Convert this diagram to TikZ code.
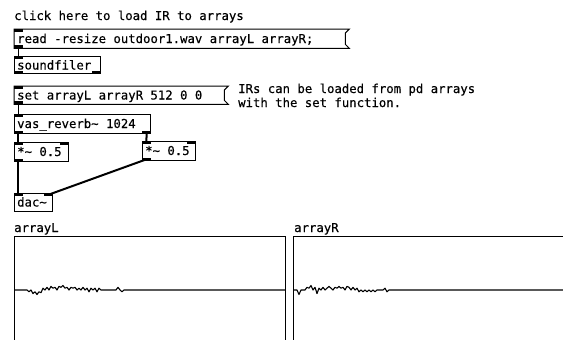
\documentclass[tikz,border=0pt]{standalone}
\usepackage{fontspec}
\setmonofont[FakeBold=0.4]{DejaVu Sans Mono}
\begin{document}
\begin{tikzpicture}[x=1pt,y=-1pt,
  font=\fontsize{12.3}{14}\selectfont\ttfamily,
  obj/.style={draw, line width=1pt, anchor=north west, inner sep=0pt},
  msgbox/.style={anchor=north west, inner sep=0pt},
  iolet/.style={fill=black, draw=none, minimum width=8.5pt, minimum height=3pt, inner sep=0pt},
  txt/.style={anchor=base west, inner sep=0pt},
  ctl/.style={line width=1pt},
  sig/.style={line width=2pt},
  wave/.style={line width=1.1pt, line join=round}]
\useasboundingbox (0,0) rectangle (563,340);
\clip (0,0) rectangle (563,340);

% comment
\node[txt] (c1) at (14,20) {click here to load IR to arrays};

% read message
\node[msgbox, minimum width=335pt, minimum height=19pt] (read) at (14,29) {};
\draw[line width=1pt] (read.north west) -- (read.north east) -- ++(-4,4) -- ([shift={(-4,-4)}]read.south east) -- (read.south east) -- (read.south west) -- cycle;
\node[txt] (readt) at ([shift={(3,14)}]read.north west) {read -resize outdoor1.wav arrayL arrayR;};
\node[iolet, anchor=north west] (readi) at (read.north west) {};
\node[iolet, anchor=south west] (reado) at (read.south west) {};

% soundfiler
\node[obj, minimum width=86pt, minimum height=17pt] (sf) at (14,56) {};
\node[txt] (sft) at ([shift={(3,13.5)}]sf.north west) {soundfiler};
\node[iolet, anchor=north west] (sfi) at (sf.north west) {};
\node[iolet, anchor=south west] (sfo0) at (sf.south west) {};
\node[iolet, anchor=south east] (sfo1) at (sf.south east) {};

% set message
\node[msgbox, minimum width=214pt, minimum height=18pt] (set) at (14,86) {};
\draw[line width=1pt] (set.north west) -- (set.north east) -- ++(-4,4) -- ([shift={(-4,-4)}]set.south east) -- (set.south east) -- (set.south west) -- cycle;
\node[txt] (sett) at ([shift={(3,13.5)}]set.north west) {set arrayL arrayR 512 0 0};
\node[iolet, anchor=north west] (seti) at (set.north west) {};
\node[iolet, anchor=south west] (seto) at (set.south west) {};

% comment 2
\node[txt] (c2a) at (238,93) {IRs can be loaded from pd arrays};
\node[txt] (c2b) at (238,107) {with the set function.};

% vas_reverb
\node[obj, minimum width=136pt, minimum height=19pt] (vas) at (14,114) {};
\node[txt] (vast) at ([shift={(3,14)}]vas.north west) {vas\_reverb\textasciitilde{} 1024};
\node[iolet, anchor=north west] (vasi) at (vas.north west) {};
\node[iolet, anchor=south west] (vaso0) at (vas.south west) {};
\node[iolet, anchor=south east] (vaso1) at (vas.south east) {};

% multipliers
\node[obj, minimum width=54pt, minimum height=19pt] (m1) at (14,142) {};
\node[txt] (m1t) at ([shift={(3,14)}]m1.north west) {*\textasciitilde{} 0.5};
\node[iolet, anchor=north west] (m1i0) at (m1.north west) {};
\node[iolet, anchor=north east] (m1i1) at (m1.north east) {};
\node[iolet, anchor=south west] (m1o) at (m1.south west) {};

\node[obj, minimum width=53pt, minimum height=19pt] (m2) at (142,141) {};
\node[txt] (m2t) at ([shift={(3,14)}]m2.north west) {*\textasciitilde{} 0.5};
\node[iolet, anchor=north west] (m2i0) at (m2.north west) {};
\node[iolet, anchor=north east] (m2i1) at (m2.north east) {};
\node[iolet, anchor=south west] (m2o) at (m2.south west) {};

% dac
\node[obj, minimum width=38pt, minimum height=18pt] (dac) at (14,193) {};
\node[txt] (dact) at ([shift={(3,13.5)}]dac.north west) {dac\textasciitilde};
\node[iolet, anchor=north west] (daci0) at (dac.north west) {};
\node[iolet, anchor=north east] (daci1) at (dac.north east) {};

% connections
\draw[ctl] (reado.center) -- (sfi.center);
\draw[ctl] (seto.center) -- (vasi.center);
\draw[sig] (vaso0.center) -- (m1i0.center);
\draw[sig] (vaso1.center) -- (m2i0.center);
\draw[sig] (m1o.center) -- (daci0.center);
\draw[sig] (m2o.center) -- (daci1.center);

% arrays
\node[txt] (aLt) at (14,232) {arrayL};
\node[obj, minimum width=271pt, minimum height=130pt] (aL) at (14,236) {};
\node[txt] (aRt) at (294,232) {arrayR};
\node[obj, minimum width=300pt, minimum height=130pt] (aR) at (293,236) {};

\begin{scope}[shift={(0,290)}]
\begin{scope}[y=-1.8pt]
\draw[wave] (14,0) -- (27,0) -- (29,1) -- (31,0) -- (33,2) -- (35,1) -- (37,2.5) -- (39,1) -- (41,1.5) -- (43,-1) -- (45,0) -- (47,-1.5) -- (49,0) -- (51,-2) -- (53,-1) -- (55,-1.5) -- (57,0) -- (59,-2) -- (61,-1.5) -- (63,-2.5) -- (65,-1) -- (67,-1.5) -- (69,0) -- (71,-1.5) -- (73,-1) -- (75,-1.5) -- (77,0) -- (79,-1) -- (81,0) -- (83,-1.5) -- (85,0) -- (87,-1) -- (89,1) -- (91,-1) -- (93,0) -- (95,-1) -- (97,1) -- (99,-1) -- (101,0) -- (116,0) -- (118,-1.5) -- (120,0) -- (122,1) -- (124,0) -- (285,0);
\draw[wave] (293,0) -- (297,0) -- (299,2.5) -- (301,0) -- (305,0) -- (307,-1.5) -- (309,-1) -- (311,-2.5) -- (313,0) -- (315,-1.5) -- (317,2) -- (319,-1) -- (321,0) -- (323,-1.5) -- (325,0) -- (327,-1) -- (329,-2) -- (331,-1) -- (333,0) -- (335,-1.5) -- (337,-1) -- (339,-2) -- (341,-1) -- (343,-1.5) -- (345,0) -- (347,-2) -- (349,-1.5) -- (351,0) -- (353,-1.5) -- (355,0) -- (357,-1) -- (359,1) -- (361,0) -- (363,1) -- (365,0) -- (367,1) -- (369,0) -- (371,1) -- (373,0) -- (375,1) -- (377,0) -- (383,0) -- (385,-1) -- (387,1) -- (389,0) -- (563,0);
\end{scope}
\end{scope}
\end{tikzpicture}
\end{document}
